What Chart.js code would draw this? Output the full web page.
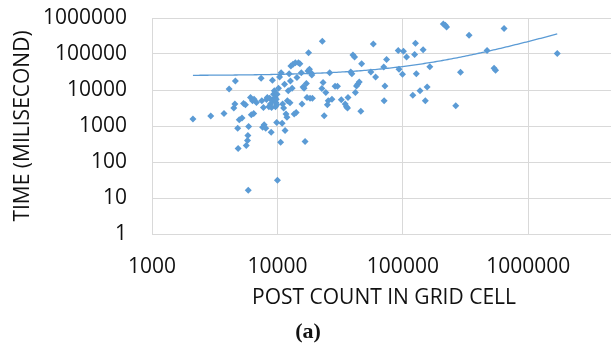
<!DOCTYPE html>
<html>
<head>
<meta charset="utf-8">
<script src="https://cdn.jsdelivr.net/npm/chart.js@4/dist/chart.umd.min.js"></script>
<style>
  html, body { margin: 0; padding: 0; background: #fff; overflow: hidden; width: 611px; height: 348px; }
  #wrap { position: absolute; left: 0; top: 0; width: 672px; height: 348px; }
</style>
</head>
<body>
<div id="wrap"><canvas id="c" width="672" height="348"></canvas></div>
<script>
// Posts per grid cell and processing time (ms) for each cell
const postCount = [
  2120, 2940, 3750, 4120, 4620, 4490, 4580, 4820, 4860, 4960,
  5220, 5370, 5560, 5810, 5640, 5770, 5890, 5850, 6100, 6190,
  6330, 6470, 6510, 6800, 7410, 7510, 7620, 7730, 7840, 8070,
  8180, 8300, 8550, 8670, 8790, 8920, 8980, 9120, 9180, 9310,
  9440, 9510, 9580, 9650, 9720, 9790, 9860, 9860, 9930, 10000,
  10200, 10400, 10600, 10700, 10900, 11000, 11200, 11400, 11500, 11700,
  11900, 12000, 12200, 12400, 12600, 12700, 12800, 13100, 13300, 13600,
  13900, 14100, 14300, 14700, 15100, 15500, 15700, 16000, 16300, 16600,
  17000, 17200, 17500, 17700, 18000, 18200, 18500, 18800, 19000, 22800,
  22600, 23100, 23600, 24300, 25000, 25400, 26100, 27200, 28800, 30100,
  32300, 34700, 35500, 36200, 36500, 38400, 39200, 40000, 41200, 41800,
  42700, 43600, 44900, 46200, 46900, 55600, 58100, 60600, 70400, 70900,
  71900, 74100, 91800, 93100, 99300, 101000, 107000, 120000, 124000, 126000,
  128000, 137000, 145000, 151000, 156000, 164000, 210000, 218000, 223000, 264000,
  288000, 337000, 469000, 533000, 548000, 641000, 1700000
];
const timeMs = [
  1560, 1890, 2240, 10700, 17900, 3150, 4060, 865, 237, 1500,
  1670, 4230, 3890, 542, 287, 394, 961, 16.4, 6190, 2060,
  5010, 2240, 5570, 4510, 21200, 5010, 920, 3280, 1090, 865,
  5460, 6190, 3420, 5940, 4060, 670, 3280, 18600, 5010, 7660,
  9460, 5460, 6190, 3420, 4510, 5570, 3890, 1260, 7660, 31,
  11200, 23000, 355, 30300, 1190, 4060, 3150, 14500, 745, 2150,
  1740, 5010, 9460, 28500, 4420, 17900, 46300, 11200, 51500, 2150,
  57300, 2390, 22100, 57300, 53800, 30300, 4060, 12200, 11200, 371,
  15100, 6190, 33700, 108000, 37500, 5940, 30300, 26200, 5940, 227000,
  11000, 16100, 1930, 8510, 3890, 5010, 30300, 5570, 12700, 12700,
  5350, 4060, 3420, 3150, 6190, 31600, 28500, 93300, 82100, 8510,
  13000, 14500, 16800, 2550, 53800, 31600, 191000, 23000, 43500, 5010,
  13000, 70800, 125000, 37500, 27300, 120000, 82100, 7180, 97300, 200000,
  28500, 9460, 131000, 5010, 12200, 44400, 683000, 628000, 565000, 3650,
  31000, 332000, 125000, 40000, 35200, 508000, 104000
];

// Axis tick values (decades)
const xTicks = [1000, 10000, 100000, 1000000];
const yTicks = [1, 10, 100, 1000, 10000, 100000, 1000000];

// Linear trend line: time = slope * posts + intercept
const trendSlope = 0.1975;
const trendIntercept = 25180;

const points = postCount.map((x, i) => ({ x: x, y: timeMs[i] }));

// Sample the linear trend across the data range (log-spaced so it stays smooth on log axes)
const xLo = Math.min(...postCount), xHi = Math.max(...postCount);
const trendPts = [];
const steps = 200;
for (let i = 0; i <= steps; i++) {
  const x = Math.pow(10, Math.log10(xLo) + (Math.log10(xHi) - Math.log10(xLo)) * i / steps);
  trendPts.push({ x: x, y: trendSlope * x + trendIntercept });
}

const BLUE = '#5B9BD5';
const GRID = '#d9d9d9';
const TXT = '#111111';
const FONT = "'Open Sans', sans-serif";

new Chart(document.getElementById('c'), {
  type: 'scatter',
  data: {
    datasets: [
      {
        label: 'Time',
        data: points,
        pointStyle: 'rectRot',
        pointRadius: 3.5,
        pointBorderWidth: 0,
        backgroundColor: BLUE,
        borderColor: BLUE
      },
      {
        label: 'Trend',
        type: 'line',
        data: trendPts,
        borderColor: BLUE,
        borderWidth: 1.3,
        pointRadius: 0,
        fill: false,
        tension: 0
      }
    ]
  },
  options: {
    responsive: false,
    animation: false,
    devicePixelRatio: 1,
    layout: { padding: { left: 0, right: 56, top: 18, bottom: 0 } },
    plugins: {
      legend: { display: false },
      tooltip: { enabled: false },
      title: {
        display: true,
        position: 'bottom',
        text: '(a)',
        color: TXT,
        font: { family: "'Liberation Serif', serif", size: 22, weight: 'bold', lineHeight: 1.2 },
        padding: { top: 8, bottom: 2.6 }
      }
    },
    scales: {
      x: {
        type: 'logarithmic',
        position: 'bottom',
        min: 1000,
        max: 5000000,
        afterBuildTicks: s => { s.ticks = xTicks.map(v => ({ value: v })); },
        afterFit: s => { s.height = 77; s.paddingLeft = 0; s.paddingRight = 0; },
        grid: { color: GRID, lineWidth: 1, drawTicks: false },
        border: { color: GRID, width: 1 },
        ticks: {
          color: TXT,
          padding: 20,
          maxRotation: 0,
          autoSkip: false,
          font: { family: FONT, size: 21 },
          callback: v => String(Math.round(v))
        },
        title: {
          display: true,
          text: 'POST COUNT IN GRID CELL',
          color: TXT,
          font: { family: FONT, size: 21, lineHeight: 1.2 },
          padding: { top: 0, bottom: 0 }
        }
      },
      y: {
        type: 'logarithmic',
        position: 'left',
        min: 1,
        max: 1000000,
        afterBuildTicks: s => { s.ticks = yTicks.map(v => ({ value: v })); },
        afterFit: s => { s.width = 152; s.paddingTop = 0; s.paddingBottom = 0; },
        grid: { color: GRID, lineWidth: 1, drawTicks: false },
        border: { color: GRID, width: 1 },
        ticks: {
          color: TXT,
          padding: 25,
          autoSkip: false,
          font: { family: FONT, size: 21 },
          callback: v => String(Math.round(v))
        },
        title: {
          display: true,
          text: 'TIME (MILISECOND)',
          color: TXT,
          font: { family: FONT, size: 21, lineHeight: 1.2 },
          padding: { top: 10, bottom: 0 }
        }
      }
    }
  }
});
</script>
</body>
</html>
